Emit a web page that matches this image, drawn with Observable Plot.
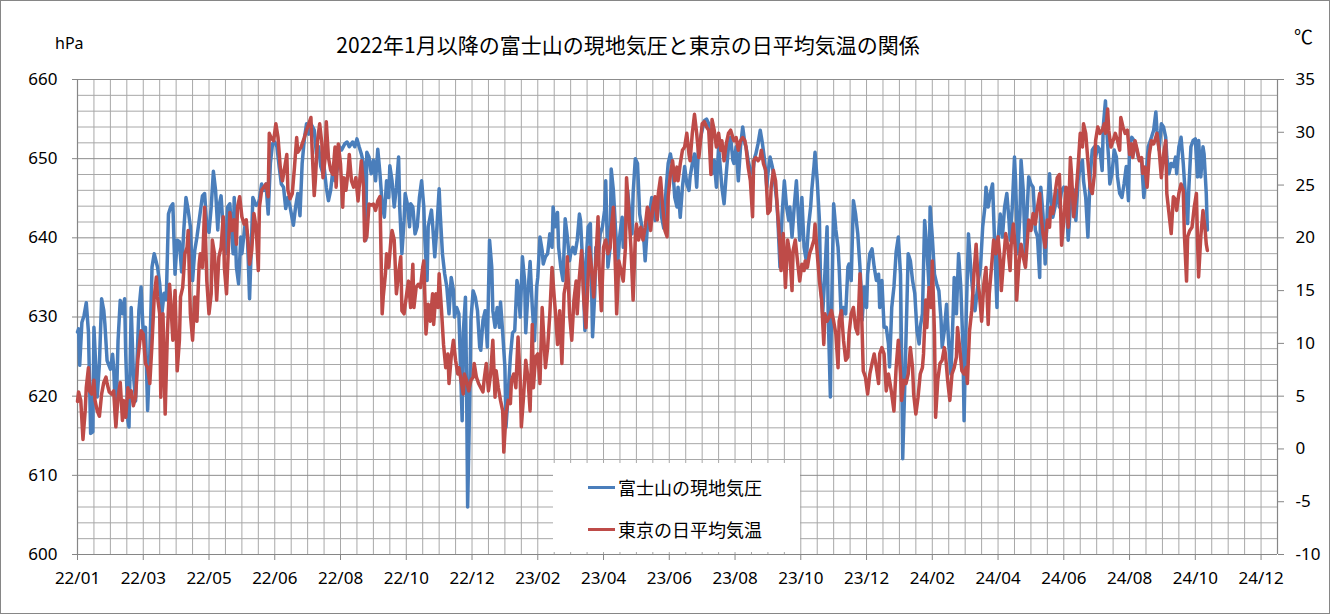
<!DOCTYPE html>
<html><head><meta charset="utf-8">
<script src="https://cdn.jsdelivr.net/npm/d3@7"></script>
<script src="https://cdn.jsdelivr.net/npm/@observablehq/plot@0.6"></script>
<style>
html,body{margin:0;padding:0;background:#fff;}
#wrap{position:relative;width:1330px;height:614px;overflow:hidden;background:#fff;font-family:"Noto Sans CJK JP","Noto Sans",sans-serif;color:#000;}
#chart{position:absolute;left:0;top:0;}
#border{position:absolute;left:0;top:0;width:1330px;height:614px;box-sizing:border-box;border:1px solid #868686;pointer-events:none;}
.lbl{position:absolute;white-space:nowrap;}
#legend{position:absolute;left:553px;top:463px;width:247px;height:89px;background:#fff;}
.lgline{position:absolute;left:35px;width:27px;height:3.5px;}
.lgtext{position:absolute;left:65px;font-size:18px;line-height:22px;}
</style></head>
<body>
<div id="wrap">
  <div id="chart"></div>
  <div class="lbl" style="left:228px;width:800px;top:31px;text-align:center;font-size:21px;line-height:26px;">2022年1月以降の富士山の現地気圧と東京の日平均気温の関係</div>
  <div class="lbl" style="left:55px;top:33px;font-family:'Noto Sans';font-size:16px;line-height:20px;">hPa</div>
  <div class="lbl" style="left:1294px;top:24px;font-size:19px;line-height:24px;">℃</div>
  <div id="legend">
    <div class="lgline" style="top:22.5px;background:#4a7ebb;"></div>
    <div class="lgtext" style="top:13px;">富士山の現地気圧</div>
    <div class="lgline" style="top:64.5px;background:#be4b48;"></div>
    <div class="lgtext" style="top:55px;">東京の日平均気温</div>
  </div>
  <div id="border"></div>
</div>
<script>
// Days counted from 2022-01-01 (day 0)
const seriesNames = ["富士山の現地気圧", "東京の日平均気温"];
// Mt. Fuji station pressure [day, hPa]
const fujiPressure = [[0,628.1],[1,628.5],[2,623.9],[4,629.3],[6,630.2],[8,631.8],[10,628.1],[12,615.3],[14,615.5],[15,628.7],[17,622.8],[18,619.9],[20,624.1],[22,632.3],[24,630.8],[25,629.1],[27,624.5],[30,623.4],[32,625.3],[33,623.7],[35,616.5],[37,627],[39,632.1],[41,630.4],[43,632.3],[44,625.4],[46,616.9],[47,616.1],[49,631.2],[51,622.8],[53,619.4],[56,630.8],[58,633.8],[60,627.9],[62,628.7],[64,618.2],[66,625.4],[68,636.3],[70,638],[73,636.3],[75,634.2],[77,630.4],[79,633],[81,632.2],[83,643],[85,643.9],[87,644.3],[89,635.4],[91,639.7],[93,639.5],[95,635.7],[97,641],[99,645.1],[101,643.5],[103,641.4],[105,634.6],[107,638.4],[109,640.1],[111,642.2],[114,645.3],[116,645.6],[118,641.4],[120,640.7],[122,643.9],[124,648.4],[126,646],[128,641],[129,643.9],[131,645.3],[133,641],[135,638],[137,643.9],[139,644.3],[142,638],[143,645.1],[145,636.3],[147,634.2],[149,640.1],[150,638],[153,641.8],[155,640.5],[157,632.3],[159,640.5],[160,645.1],[163,644.1],[165,644.3],[166,644.9],[168,646.8],[170,646],[172,646.8],[174,643],[176,649.4],[178,651.9],[180,652.1],[182,651.5],[184,649],[186,646.8],[188,646.4],[190,643.7],[192,645.1],[194,643.9],[197,641.6],[199,643.9],[201,645.6],[203,642.8],[205,649.4],[207,652.5],[209,654.4],[211,653.1],[213,654.4],[216,653.6],[218,650.6],[220,651.5],[222,649],[224,648.1],[225,649],[227,646.4],[229,644.7],[231,646],[233,648.5],[235,647.2],[238,649.4],[239,651.5],[241,651.1],[244,651.9],[246,652.1],[248,651.5],[251,652.1],[253,651.5],[255,652.5],[257,651.5],[259,650.6],[261,649.4],[263,639.7],[264,650.8],[266,650.2],[268,648.1],[270,649.8],[272,647.2],[274,651.2],[276,648.1],[278,644.3],[280,642.6],[282,647.2],[284,645.1],[285,649.1],[287,647.2],[289,643.9],[291,646.4],[293,650.2],[294,643.9],[296,638],[298,642.2],[299,645.6],[301,644.3],[303,641.4],[304,644.3],[306,643.9],[308,640.5],[310,641.4],[312,645.1],[314,647.2],[316,643.9],[317,639.7],[319,634.6],[320,641.4],[323,643.5],[324,641.8],[326,637.6],[328,641.4],[330,646.2],[331,643],[333,638],[335,635.5],[337,633.8],[339,630.4],[341,635],[343,633.4],[344,630],[346,631.2],[348,630.4],[349,626],[351,616.9],[352,628],[354,632.5],[355,622],[356,606],[358,620.3],[359,629.6],[361,633.3],[363,632.5],[365,630.8],[367,626.2],[368,625.8],[370,629.6],[372,630.8],[374,626.2],[376,639.7],[378,636.3],[379,630.8],[381,628.7],[383,631.2],[385,628.7],[386,631.9],[388,628],[390,623.7],[391,616.1],[393,620.3],[395,625],[397,628],[399,628.3],[401,634.6],[402,633.8],[404,630],[406,637.6],[408,634.6],[409,628],[411,633],[413,637],[415,631.2],[417,627],[419,633.8],[420,635],[422,640.1],[424,638.4],[425,636.7],[427,637.6],[429,638],[431,640.5],[433,638.8],[434,643.9],[436,641.4],[438,643.2],[439,638.8],[441,636.3],[443,634.6],[445,642.4],[447,640.1],[449,637.1],[450,638],[452,638.8],[454,638],[456,639.7],[458,643],[459,642.2],[461,636.7],[463,628.3],[464,636.7],[466,641.4],[468,641.8],[470,627.5],[472,633],[473,638.8],[475,637.1],[477,640.5],[479,641.4],[481,643.5],[482,647.2],[484,636.3],[486,638.8],[487,648.7],[489,646],[491,641],[493,637.1],[495,640.5],[497,642.6],[498,638.8],[500,641],[502,646],[504,643],[506,640.5],[507,645.6],[509,650],[511,649.4],[513,643],[515,641.4],[517,639.3],[518,637.1],[520,641.4],[522,643],[524,645.1],[526,643.9],[527,642.2],[529,643.9],[531,645.6],[533,642.6],[535,641.2],[537,646],[539,649.4],[541,650.6],[543,649],[545,645.1],[547,643.9],[548,646.4],[550,642.6],[552,646.4],[554,649],[556,646.8],[558,646],[559,647.7],[561,649.4],[563,650.6],[565,646.4],[567,652.3],[568,652.3],[570,653.6],[572,654.8],[574,655],[576,654.4],[578,651.1],[579,648.1],[581,649.8],[583,646.4],[585,651.5],[587,648.1],[588,646.4],[590,644.3],[592,648.1],[594,651.5],[596,652.7],[598,649.8],[599,649.4],[601,651.5],[603,647.2],[605,651.5],[607,654],[609,651.9],[610,651.5],[612,649.8],[614,648.5],[616,648.1],[618,650.2],[619,650.6],[621,651.9],[623,653.6],[625,651.9],[627,649.8],[629,646.4],[630,648.1],[632,650.2],[634,649],[636,647.2],[638,644.7],[639,642.6],[641,636.3],[643,643],[645,647.2],[647,643.9],[649,642.2],[650,643.9],[652,640.1],[654,643.9],[656,647.2],[658,642.2],[659,639.7],[661,645.1],[663,638.8],[665,637.1],[667,641.4],[669,643.9],[670,646],[672,649],[673,650.8],[675,647.2],[677,642.2],[678,634.6],[680,630.4],[682,635.5],[684,641.4],[685,630.4],[687,619.9],[688,630.4],[690,644.3],[692,641],[694,638.8],[695,636.3],[697,629.6],[699,631.2],[701,630.4],[703,636.3],[704,636.7],[706,634.6],[708,644.7],[710,643],[712,640.5],[714,636.3],[715,633.8],[716,629.6],[718,633.8],[720,631.2],[721,635.4],[723,638],[725,638.6],[727,636.3],[729,634.6],[731,635.4],[732,631.2],[734,634.6],[736,628.7],[738,628.7],[740,626.6],[741,623.7],[743,631.2],[745,633.8],[747,638.2],[749,640.1],[751,635.4],[752,625],[753,612.1],[755,622],[757,632.5],[758,638],[760,637.1],[762,634.6],[764,633],[766,628.3],[768,626.6],[769,628.7],[771,630.4],[773,642.2],[775,638.8],[777,633.8],[778,643.9],[780,640.1],[782,635.4],[784,634.2],[786,633.3],[788,629.6],[789,626.2],[791,628.3],[793,631.6],[795,626.6],[797,622.8],[799,630.4],[800,635],[802,630.4],[804,638],[806,633.8],[808,626.2],[809,616.9],[811,630.4],[813,640.5],[815,636.3],[817,633],[819,630.8],[820,632.1],[822,634.6],[824,636.3],[826,641.4],[828,643.9],[829,646.4],[831,643.9],[833,645.6],[835,646.8],[837,638.8],[839,631.2],[840,639.7],[842,643],[844,640.1],[846,643.9],[848,645.6],[850,642.2],[851,639.7],[853,643.9],[855,650.2],[856,647.2],[858,638],[860,643],[861,649.8],[863,646],[865,637.1],[866,641.8],[868,647.7],[870,646.8],[872,646.4],[874,641],[876,640.1],[878,635],[879,646.4],[881,643],[883,636.7],[885,643.5],[887,648.1],[888,645.6],[890,642.6],[892,643.9],[894,646],[896,643.9],[898,646],[900,646.4],[902,645.6],[904,639.7],[906,643.9],[907,646.4],[909,646],[911,642.2],[913,647.2],[915,649],[917,649.8],[918,647.2],[920,645.1],[922,640.1],[924,647.7],[926,651.1],[928,651.5],[929,650.2],[931,651.5],[933,651.1],[935,648.5],[936,654],[938,657.3],[939,654],[941,649.8],[942,646.8],[944,648.1],[946,651.1],[948,650.2],[949,647.7],[951,645.6],[953,645.1],[955,646.8],[957,649],[959,644.7],[960,651.9],[962,652.7],[964,652.3],[966,651.5],[968,650.2],[969,649.8],[971,649.8],[973,645.1],[975,647.7],[977,651.5],[979,652.3],[980,652.7],[982,653.6],[984,655.9],[985,653.6],[987,651.1],[989,654.4],[991,654],[993,652.7],[994,650.2],[996,648.1],[998,649.4],[1000,649],[1002,650.2],[1003,648.1],[1005,651.5],[1007,652.7],[1009,649.4],[1011,645.1],[1013,641.8],[1014,646],[1016,651.5],[1018,652.3],[1020,652.5],[1022,647.7],[1023,652.3],[1025,647.7],[1027,651.5],[1028,650.6],[1030,645.6],[1031,641]];
// Tokyo daily mean temperature [day, °C]
const tokyoTemp = [[0,4.5],[1,5.4],[3,4.6],[5,0.9],[7,3.6],[8,5.8],[10,7.7],[11,5.5],[13,5.2],[15,6.5],[16,4.6],[18,3.6],[20,3.1],[22,5.2],[24,6.3],[26,6.8],[27,6.2],[29,5.4],[31,5.2],[33,5.5],[35,2.1],[37,4.9],[39,6.3],[41,2.7],[42,4.6],[44,3.0],[46,5.8],[47,4.9],[49,5.5],[51,4.1],[53,4.9],[55,8.4],[57,10.3],[58,11.2],[60,10.9],[62,8.1],[64,7.7],[66,6.2],[68,10],[70,14.4],[72,16.3],[73,14.4],[75,12.8],[76,4.9],[78,12.8],[80,3.3],[82,10.9],[84,15.6],[85,14.1],[87,10.3],[89,15],[91,7.4],[93,10.3],[94,14.4],[96,15.3],[98,18.5],[100,19.1],[101,20.7],[103,12.8],[105,10.3],[107,14.4],[109,12.1],[111,17.5],[112,18.5],[114,17.2],[116,22.9],[118,15.9],[120,12.8],[122,14.7],[123,19.8],[125,18.5],[127,14.1],[129,18.2],[131,19.1],[133,22],[134,17.2],[136,14.7],[138,19.8],[139,22.4],[141,20.7],[143,21.7],[145,19.4],[146,22.9],[148,23.9],[150,22],[152,21.3],[154,21.7],[156,19.1],[157,17.5],[159,18.8],[161,22.3],[163,21],[165,16.9],[166,22.9],[168,24.5],[170,24.8],[172,25.1],[174,23.9],[175,29.9],[177,29.4],[179,29.2],[181,30.8],[183,29.5],[185,26.7],[187,25.4],[188,26],[191,27.9],[192,24.5],[194,23.7],[196,24.2],[198,26.7],[200,29.5],[201,28.1],[204,28.6],[205,28.9],[207,29.5],[209,30.2],[211,30.8],[213,31.4],[214,28.6],[216,24],[217,25.4],[219,29.2],[221,30.8],[223,28.9],[224,25.7],[226,27.6],[227,31],[229,27.6],[231,26.4],[233,26],[235,28.6],[236,24.8],[238,28.9],[240,27],[242,22.9],[243,25.7],[245,24.5],[247,26.4],[248,27.9],[250,25.4],[252,24.8],[254,25.7],[256,23.5],[258,26],[259,27.3],[261,24.8],[262,19.7],[264,20.1],[266,23.2],[268,23.1],[270,23.2],[272,22.6],[274,23.5],[276,23.9],[278,12.8],[279,14.4],[281,16.6],[282,18.5],[284,17.2],[286,19.8],[287,20.7],[289,19.8],[291,14.7],[293,16.6],[295,18.2],[296,13.1],[298,12.8],[300,14.4],[302,15.9],[304,13.4],[306,17.5],[307,13.4],[309,15.3],[311,15.6],[313,15.3],[315,17.2],[316,17.8],[318,10.9],[320,13.7],[322,12.1],[324,14.7],[325,11.8],[327,14.7],[329,13.4],[330,16.6],[332,13.4],[334,9.9],[336,7.7],[338,9],[339,6.2],[341,8.7],[343,10.3],[345,8.4],[347,7.1],[348,7.7],[350,6.5],[352,5.2],[353,7.1],[355,6.5],[357,5.5],[359,6.5],[361,6.8],[362,8.1],[364,6.8],[366,6.2],[368,5.8],[370,5.4],[371,6.5],[373,8.1],[375,5.5],[377,7.1],[379,10.3],[381,4.9],[382,7.4],[384,5.8],[386,4.6],[388,3.6],[389,-0.3],[391,3.3],[393,4.6],[395,4.3],[396,6.5],[398,7.1],[400,5.8],[402,10.6],[404,6.5],[405,2.1],[407,4.9],[409,8.4],[411,6.8],[413,3.6],[415,11.8],[416,5.8],[418,8.7],[420,9],[422,6.2],[424,13.4],[426,9.6],[427,7.7],[429,9.6],[431,12.8],[433,17.2],[435,14.4],[436,13.1],[438,9.9],[440,13.1],[442,8.1],[444,14.7],[446,15.9],[447,18.2],[449,12.8],[451,10.3],[453,14.1],[455,15.9],[456,12.8],[458,16.3],[460,18.8],[462,14.1],[464,11.5],[466,16.3],[467,19.1],[469,17.2],[471,14.4],[473,17.8],[475,22],[476,17.2],[478,13.1],[480,19.1],[482,19.8],[484,18.5],[486,19.1],[487,20.7],[489,22.9],[491,16.6],[492,12.8],[494,17.8],[496,16.9],[498,15.9],[500,19.1],[501,25.7],[503,22.6],[505,19.1],[507,14.1],[509,20.1],[510,21.3],[512,19.8],[514,21],[516,19.8],[518,21],[520,22.9],[521,22.6],[523,20.7],[525,22.9],[527,23.9],[529,21.7],[530,24.2],[532,25.7],[534,22.9],[536,20.7],[538,20.1],[539,23.9],[541,26],[543,27.3],[545,25.4],[547,26.7],[548,25.4],[550,27],[552,28.3],[554,28.6],[556,29.9],[558,27.9],[559,27.3],[561,29.9],[563,31.7],[565,29.9],[567,27.6],[568,28.6],[570,30.8],[572,31],[574,30.5],[576,30.2],[578,26],[579,31.2],[581,30.2],[583,28.6],[585,29.9],[587,28.3],[588,29.2],[590,27.3],[592,28.9],[594,29.9],[596,30.2],[598,29.5],[599,29.2],[601,29.5],[603,28.3],[605,29.2],[607,29.5],[609,29.2],[610,28.6],[612,26.7],[614,25.4],[616,22],[617,27.3],[619,27.6],[621,27.3],[623,27.6],[624,28.3],[626,27],[628,26.4],[630,22.3],[632,22.6],[633,24.8],[635,26.4],[637,25.4],[639,22.3],[641,19.1],[642,16.9],[644,20.4],[646,15.3],[648,19.8],[650,18.5],[652,15],[653,18.8],[655,19.8],[657,17.8],[659,15.9],[661,17.5],[663,16.9],[664,17.8],[666,17.2],[668,18.5],[670,19.1],[672,19.8],[673,21.3],[675,18.5],[677,15.9],[679,14.1],[681,9.9],[682,12.8],[684,12.1],[686,12.5],[688,13.1],[690,12.1],[692,10.9],[694,7.7],[695,12.1],[697,13.1],[699,10.3],[701,8.4],[703,8.7],[704,10.9],[706,12.8],[708,13.4],[710,11.5],[712,10.9],[714,16.6],[715,14.7],[717,7.4],[719,6.8],[721,5.2],[723,7.1],[725,8.1],[727,9],[729,7.7],[731,6.2],[732,9],[734,9.6],[736,9],[738,5.5],[740,7.1],[741,6.5],[743,5.2],[745,3.6],[747,7.7],[749,10.3],[751,7.1],[752,4.6],[754,6.5],[756,6.2],[758,7.1],[760,9.6],[762,7.7],[763,5.2],[765,3.3],[767,4.9],[769,7.1],[771,7.7],[772,9],[774,14.1],[775,11.5],[777,15.3],[779,13.4],[780,17.8],[782,10.9],[783,3],[785,6.5],[787,8.1],[789,8.4],[791,9.6],[792,9],[794,6.5],[796,4.6],[798,7.1],[800,7.7],[802,8.7],[803,11.5],[805,9.6],[807,7.4],[809,7.1],[811,7.7],[812,6.2],[814,11.2],[816,13.1],[818,16.6],[820,19.4],[822,15.6],[823,14.7],[825,12.1],[827,15.6],[829,17.2],[831,11.8],[832,14.7],[834,17.2],[836,19.8],[838,18.5],[840,20.1],[842,17.8],[843,15],[845,17.8],[847,20.4],[849,19.1],[851,16.9],[852,19.4],[854,21.3],[856,18.5],[857,14.1],[859,17.5],[861,19.4],[863,18.2],[865,17.2],[867,20.1],[868,21.7],[870,20.7],[872,22.3],[874,21.3],[876,22.9],[878,24.2],[879,22.3],[881,20.4],[883,19.1],[885,21.7],[887,21],[888,22.9],[890,22.3],[892,24.2],[894,25.7],[896,26],[897,23],[898,19.3],[900,21.7],[902,24.8],[904,21],[906,27.6],[907,26.1],[909,22],[911,23.9],[913,26.7],[915,29.9],[917,28.6],[918,30.8],[920,29.9],[922,27.3],[924,24.8],[926,24.2],[928,26.1],[929,29.2],[931,30.5],[933,29.9],[935,30.2],[937,30.8],[938,29.9],[940,32.2],[941,30.2],[943,28.6],[945,29.2],[947,29.9],[949,29.2],[951,28.3],[952,31.4],[954,30.5],[956,29.9],[958,30.2],[960,27.9],[962,28.9],[963,27.6],[965,29.2],[967,28.3],[969,27.3],[971,27.6],[972,26.1],[974,26.7],[976,24.8],[978,27.9],[980,29.2],[982,28.9],[983,29.2],[985,29.9],[987,28.3],[989,25.7],[991,27.9],[993,29.2],[994,24.2],[996,22.3],[998,20.4],[1000,23.9],[1002,23.6],[1003,22.6],[1005,24.2],[1007,25.1],[1009,24.5],[1010,20.4],[1012,15.9],[1013,20.1],[1015,20.7],[1017,21],[1019,22.9],[1021,24.2],[1022,19.8],[1023,16.3],[1025,20.1],[1027,22.6],[1029,20.7],[1030,19.4],[1031,18.8]];
// Axis ticks
const xTickDays = [0,60,120,180,240,300,360,420,480,540,600,660,720,780,840,900,960,1020,1080];
const xTickLabels = ["22/01","22/03","22/05","22/06","22/08","22/10","22/12","23/02","23/04","23/06","23/08","23/10","23/12","24/02","24/04","24/06","24/08","24/10","24/12"];
const hpaTicks = [600,610,620,630,640,650,660];
const tempTicks = [-10,-5,0,5,10,15,20,25,30,35];

const xDomain = [0, 1095];
const hpaDomain = [600, 660];
const tempDomain = [-10, 35];
const toY = t => hpaDomain[0] + (t - tempDomain[0]) * (hpaDomain[1]-hpaDomain[0]) / (tempDomain[1]-tempDomain[0]);
const fromY = y => tempDomain[0] + (y - hpaDomain[0]) * (tempDomain[1]-tempDomain[0]) / (hpaDomain[1]-hpaDomain[0]);
const labelByDay = new Map(xTickDays.map((d,i)=>[d, xTickLabels[i]]));

const blue = "#4a7ebb", red = "#be4b48", gridC = "#a8a8a8", axisC = "#868686";

const chart = Plot.plot({
  width: 1330, height: 614,
  marginLeft: 77, marginRight: 53, marginTop: 79, marginBottom: 60,
  x: {domain: xDomain},
  y: {domain: hpaDomain},
  style: {fontFamily: "'Noto Sans', sans-serif", fontSize: "17px", color: "#000", background: "transparent", overflow: "visible"},
  marks: [
    Plot.ruleX(d3.range(xDomain[0], xDomain[1] + 1, 15), {stroke: gridC, strokeWidth: 1}),
    Plot.ruleY(d3.range(600, 661, 2).filter(v => v % 10 !== 0), {stroke: gridC, strokeWidth: 1}),
    Plot.ruleY(hpaTicks, {stroke: "#8c8c8c", strokeWidth: 1}),
    Plot.ruleX([xDomain[0], xDomain[1]], {stroke: axisC, strokeWidth: 1.2}),
    Plot.ruleY([hpaDomain[0]], {stroke: axisC, strokeWidth: 1.2}),
    Plot.axisY(hpaTicks, {anchor: "left", tickSize: 5, tickPadding: 15, label: null, stroke: axisC, fill: "#000", tickFormat: d => d}),
    Plot.axisY(tempTicks.map(toY), {anchor: "right", tickSize: 6, tickPadding: 12, label: null, stroke: axisC, fill: "#000", tickFormat: d => Math.round(fromY(d))}),
    Plot.axisX(xTickDays, {anchor: "bottom", tickSize: 6, tickPadding: 11, label: null, stroke: axisC, fill: "#000", tickFormat: d => labelByDay.get(d)}),
    Plot.line(fujiPressure, {x: d => d[0], y: d => d[1], stroke: blue, strokeWidth: 3.5}),
    Plot.line(tokyoTemp, {x: d => d[0], y: d => toY(d[1]), stroke: red, strokeWidth: 3.5})
  ]
});
document.getElementById("chart").appendChild(chart);
</script>
</body></html>
